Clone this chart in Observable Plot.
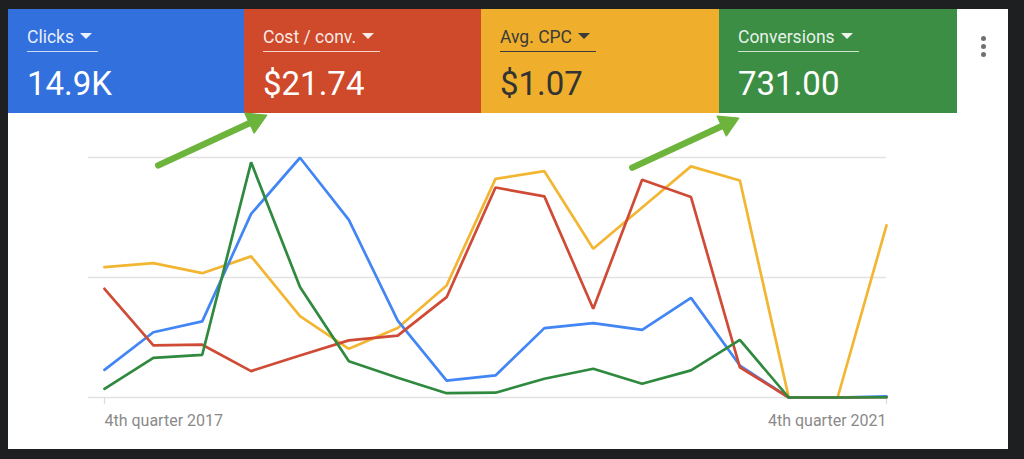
<!DOCTYPE html>
<html>
<head>
<meta charset="utf-8">
<script src="https://cdn.jsdelivr.net/npm/d3@7"></script>
<script src="https://cdn.jsdelivr.net/npm/@observablehq/plot@0.6"></script>
<style>
  html, body { margin: 0; padding: 0; }
  body { width: 1024px; height: 459px; background: #1d1f21; position: relative; overflow: hidden; font-family: Roboto, "Noto Sans", sans-serif; }
  #card { position: absolute; left: 8px; top: 9px; width: 1000px; height: 440px; background: #fff; }
  .tile { position: absolute; top: 9px; height: 104px; box-sizing: border-box; }
  .lab { position: absolute; top: 16px; left: 19px; font-size: 17.5px; line-height: 24px; padding-bottom: 1.5px; border-bottom: 1.3px solid rgba(255,255,255,0.75); color: rgba(255,255,255,0.9); white-space: nowrap; padding-right: 6px; }
  .tri { display: inline-block; width: 0; height: 0; border-left: 6px solid transparent; border-right: 6px solid transparent; border-top: 6px solid currentColor; margin-left: 6px; vertical-align: 4px; }
  .val { position: absolute; top: 55px; left: 19px; font-size: 33px; line-height: 40px; color: #fff; white-space: nowrap; }
  .dark .lab { color: #3a3a3a; border-bottom-color: #3a3a3a; }
  .dark .val { color: #333; }
  .dot { position: absolute; left: 981px; width: 5px; height: 5px; border-radius: 50%; background: #707070; }
  #chart { position: absolute; left: 0; top: 113px; }
</style>
</head>
<body>
<div id="card"></div>
<div id="tiles"></div>
<div class="dot" style="top:36px"></div>
<div class="dot" style="top:44px"></div>
<div class="dot" style="top:52px"></div>
<div id="chart"></div>
<script>
// ---- data ----
const quarterLabels = ["4th quarter 2017", "4th quarter 2021"];
const quarterCount = 17; // 4th quarter 2017 .. 4th quarter 2021

const metricNames  = ["Clicks", "Cost / conv.", "Avg. CPC", "Conversions"];
const metricTotals = ["14.9K", "$21.74", "$1.07", "731.00"];
const tileColors   = ["#3270de", "#cf4a2a", "#efaf2c", "#3c8e45"];
const lineColors   = ["#4285f4", "#cf4b35", "#f2b632", "#2f8a3f"];

// normalized series (0 = baseline, 100 = top gridline)
const clicks      = [11.5, 27.2, 31.7, 76.5, 99.9, 74.0, 32.0, 7.0, 9.2, 28.9, 31.0, 28.2, 41.5, 13.3, 0, 0, 0.5];
const costPerConv = [45.3, 21.7, 22.0, 11.0, 17.5, 23.8, 25.8, 41.8, 87.5, 83.8, 37.0, 90.7, 83.5, 12.6, 0, 0, 0.1];
const avgCpc      = [54.3, 56.0, 51.8, 58.8, 33.9, 20.3, 29.0, 46.7, 91.1, 94.3, 62.0, 79.2, 96.3, 90.4, 0, 0, 71.7];
const conversions = [3.6, 16.5, 17.8, 98.0, 46.0, 15.1, 8.2, 1.8, 2.0, 7.8, 12.0, 5.7, 11.3, 24.0, 0, 0, 0.1];

const gridValues = [0, 50, 100];

// annotation arrows (in data space: quarter index, normalized value)
const arrowFrom = [[1.10, 96.7], [10.80, 95.8]];
const arrowTo   = [[3.31, 117.5], [12.97, 116.3]];

// ---- tiles ----
const tileLefts = [8, 244, 481, 719];
const tileRights = [244, 481, 719, 957];
const tilesEl = document.getElementById("tiles");
metricNames.forEach((name, i) => {
  const d = document.createElement("div");
  d.className = "tile" + (i === 2 ? " dark" : "");
  d.style.left = tileLefts[i] + "px";
  d.style.width = (tileRights[i] - tileLefts[i]) + "px";
  d.style.background = tileColors[i];
  d.innerHTML = `<div class="lab">${name}<span class="tri"></span></div><div class="val">${metricTotals[i]}</div>`;
  tilesEl.appendChild(d);
});

// ---- chart ----
const seriesList = [
  {name: "Avg. CPC", values: avgCpc, color: lineColors[2]},
  {name: "Clicks", values: clicks, color: lineColors[0]},
  {name: "Cost / conv.", values: costPerConv, color: lineColors[1]},
  {name: "Conversions", values: conversions, color: lineColors[3]}
];
const rows = seriesList.flatMap(s => s.values.map((v, i) => ({series: s.name, i, v})));
const arrows = arrowFrom.map((f, k) => ({x1: f[0], y1: f[1], x2: arrowTo[k][0], y2: arrowTo[k][1]}));
const labelRows = [
  {i: 0, label: quarterLabels[0], anchor: "start"},
  {i: quarterCount - 1, label: quarterLabels[1], anchor: "end"}
];
const arrowGreen = "#6db43c";

const plot = Plot.plot({
  width: 1024,
  height: 336,
  marginLeft: 88,
  marginRight: 138,
  marginTop: 44,
  marginBottom: 52,
  style: "background: transparent; overflow: visible; font-family: Roboto, sans-serif;",
  x: {domain: [-0.327, quarterCount - 1], axis: null},
  y: {domain: [0, 100], axis: null},
  marks: [
    Plot.ruleY(gridValues, {stroke: "#e2e2e2", strokeWidth: 1.3}),
    Plot.ruleX([0, quarterCount - 1], {y1: 0, y2: 0, insetBottom: -7, stroke: "#dcdcdc", strokeWidth: 1.2}),
    ...seriesList.map(s => Plot.line(rows.filter(r => r.series === s.name), {x: "i", y: "v", stroke: s.color, strokeWidth: 2.7, strokeLinejoin: "miter"})),
    Plot.text(labelRows.filter(d => d.anchor === "start"), {x: "i", y: () => 0, text: "label", textAnchor: "start", dy: 23, fontSize: 16, fill: "#8a8a8a"}),
    Plot.text(labelRows.filter(d => d.anchor === "end"), {x: "i", y: () => 0, text: "label", textAnchor: "end", dy: 23, fontSize: 16, fill: "#8a8a8a"}),
    Plot.arrow(arrows, {x1: "x1", y1: "y1", x2: "x2", y2: "y2", stroke: arrowGreen, strokeWidth: 6.5, headLength: 0, insetEnd: 12, strokeLinecap: "round"}),
    Plot.dot(arrows, {x: "x2", y: "y2", symbol: "triangle", r: 8, rotate: 65, dx: -11, dy: 5, fill: arrowGreen, stroke: arrowGreen, strokeWidth: 1.5, strokeLinejoin: "round"})
  ]
});
document.getElementById("chart").appendChild(plot);
</script>
</body>
</html>
